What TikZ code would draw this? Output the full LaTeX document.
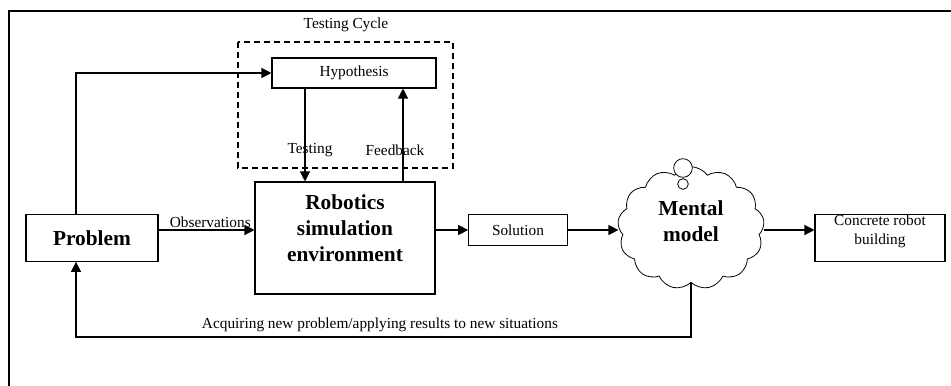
\documentclass[tikz,border=0pt]{standalone}
\usepackage{fontspec}
\setmainfont{Liberation Serif}
\usepackage{tikz}
\usetikzlibrary{
  arrows.meta,
  shapes.symbols,
  positioning
}

\begin{document}
\begin{tikzpicture}[
      x=0.75pt, y=-0.75pt,
      box/.style={
         rectangle,
         draw=black,
         line width=0.8pt,
         inner sep=0pt,
         font=\fontsize{11.5}{14}\selectfont,
         align=center
      },
      bigtext/.style={
         align=center,
         font=\fontsize{16}{19.5}\selectfont\bfseries
      },
      small/.style={
         font=\fontsize{11.5}{14}\selectfont,
         inner sep=1pt
      },
      thought/.style={
         cloud,
         cloud puffs=13,
         cloud puff arc=110,
         draw=black,
         line width=0.6pt,
         minimum width=110pt,
         minimum height=92pt,
         inner sep=0pt
      },
      tip/.style={-{Triangle[length=7.5pt,width=7.5pt]}, line width=0.9pt}
    ]
    \useasboundingbox (0,0) rectangle (951,386);
    % outer frame
    \draw[line width=1.1pt] (951,11) -- (9,11) -- (9,386);

    % testing cycle
    \node (cyc) [small] at (346,25) {Testing Cycle};
    \draw[dash pattern=on 4.5pt off 3pt, line width=0.8pt] (238,42) rectangle (453,168);
    \node (hyp) [box, minimum width=123pt, minimum height=22.5pt] at (354,73) {Hypothesis};

    % main row
    \node (prob) [box, minimum width=99pt, minimum height=35pt, font=\fontsize{16}{19.5}\selectfont\bfseries] at (92,238) {Problem};
    \node (rse) [box, minimum width=135pt, minimum height=84pt] at (345,238) {};
    \node (rset) [bigtext] at (345,228) {Robotics\\simulation\\environment};
    \node (sol) [box, minimum width=74pt, minimum height=23pt] at (518,230) {Solution};
    \node (mm) [thought] at (691,228) {};
    \node (mmt) [bigtext] at (691,221) {Mental\\model};
    \node (con) [box, minimum width=97.5pt, minimum height=35pt] at (880,238) {};
    \node (cont) [small, align=center] at (880,231) {Concrete robot\\building};

    % thought bubbles
    \draw[fill=white, line width=0.6pt] (683,184) circle (4pt);
    \draw[fill=white, line width=0.6pt] (683,168) circle (7pt);

    \coordinate (px) at (76,0);
    \coordinate (tx) at (305,0);
    \coordinate (fx) at (403,0);
    \coordinate (lp) at (0,337);

    % connectors
    \draw[tip] (prob.north -| px) |- (hyp.west);
    \draw[tip] (hyp.south -| tx) -- (rse.north -| tx);
    \draw[tip] (rse.north -| fx) -- (hyp.south -| fx);
    \node (tst) [small] at (310,150) {Testing};
    \node (fb) [small] at (395,150) {Feedback};
    \draw[tip] (prob.east |- sol) -- node[small, above, pos=0.54] (obs) {Observations} (rse.west |- sol);
    \draw[tip] (rse.east |- sol) -- (sol.west);
    \draw[tip] (sol.east) -- (mm.west |- sol);
    \draw[tip] (mm.east |- sol) -- (con.west |- sol);
    \draw[tip] (mm.south) -- (mm.south |- lp) -| (prob.south -| px);
    \node (acq) [small] at (380,325) {Acquiring new problem/applying results to new situations};
\end{tikzpicture}
\end{document}
